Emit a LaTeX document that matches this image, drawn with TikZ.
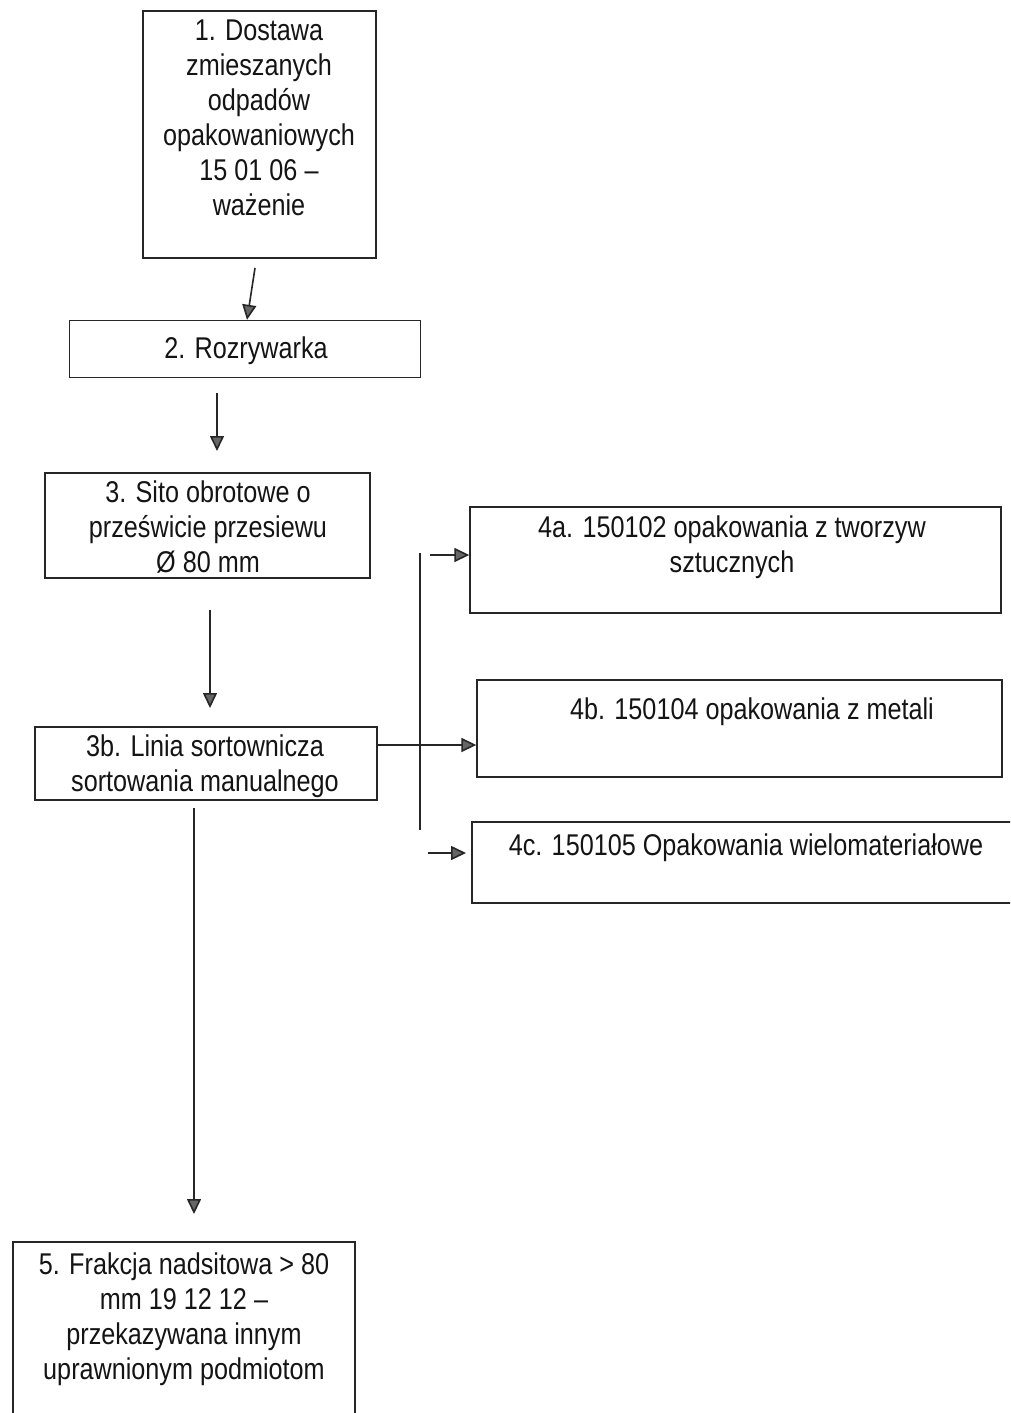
\documentclass[tikz,border=0pt]{standalone}
\usepackage{fontspec}
\setmainfont[FakeStretch=0.84]{Liberation Sans}
\usetikzlibrary{arrows.meta}
\tikzset{
  box/.style={draw=black!85, line width=1.4pt, rectangle, inner sep=0pt},
  txt/.style={align=center, font=\fontsize{30}{35}\selectfont, inner sep=0pt, text=black!92},
  arr/.style={draw=black!85, line width=1.6pt, -{Triangle[length=15pt,width=14pt,fill=black!60]}},
  ln/.style={draw=black!85, line width=1.6pt}
}
\begin{document}
\begin{tikzpicture}[x=1pt,y=-1pt]
\useasboundingbox (0,0) rectangle (1010,1413);
\clip (0,0) rectangle (1010,1413);
\fill[white] (0,0) rectangle (1010,1413);
% boxes
\node[box, minimum width=233pt, minimum height=247pt] (b1) at (259.5,134.5) {};
\node[box, minimum width=351pt, minimum height=57pt] (b2) at (245,349) {};
\node[box, minimum width=325pt, minimum height=105pt] (b3) at (207.5,525.5) {};
\node[box, minimum width=342pt, minimum height=73pt] (b3b) at (206,763.5) {};
\node[box, minimum width=531pt, minimum height=106pt] (b4a) at (735.5,560) {};
\node[box, minimum width=525pt, minimum height=97pt] (b4b) at (739.5,728.5) {};
\node[box, minimum width=548pt, minimum height=81pt] (b4c) at (746,862.5) {};
\node[box, minimum width=342pt, minimum height=198pt] (b5) at (184,1341) {};
% texts
\node[txt, anchor=north] (t1) at (259,20) {1. Dostawa\\zmieszanych\\odpadów\\opakowaniowych\\15 01 06 --\\ważenie};
\node[txt] (t2) at (246,351) {2. Rozrywarka};
\node[txt, anchor=north] (t3) at (208,481) {3. Sito obrotowe o\\prześwicie przesiewu\\Ø 80 mm};
\node[txt, anchor=north] (t3b) at (205,735) {3b. Linia sortownicza\\sortowania manualnego};
\node[txt, anchor=north] (t4a) at (732,516) {4a. 150102 opakowania z tworzyw\\sztucznych};
\node[txt, anchor=north] (t4b) at (752,698) {4b. 150104 opakowania z metali};
\node[txt, anchor=north] (t4c) at (746,834) {4c. 150105 Opakowania wielomateriałowe};
\node[txt, anchor=north] (t5) at (184,1253) {5. Frakcja nadsitowa > 80\\mm 19 12 12 --\\przekazywana innym\\uprawnionym podmiotom};
% connectors
\coordinate (a1s) at (255,268);
\draw[arr] (a1s) -- (b2.north -| 247,0);
\coordinate (a2s) at (217,393);
\coordinate (a2e) at (217,451);
\draw[arr] (a2s) -- (a2e);
\coordinate (a3s) at (210,610);
\coordinate (a3e) at (210,708);
\draw[arr] (a3s) -- (a3e);
\coordinate (a5s) at (194,808);
\coordinate (a5e) at (194,1214);
\draw[arr] (a5s) -- (a5e);
\coordinate (vtop) at (420,553);
\coordinate (vbot) at (420,830);
\draw[ln] (vtop) -- (vbot);
\draw[arr] (b3b.east |- 0,745) -- (b4b.west |- 0,745);
\coordinate (a4as) at (430,555);
\draw[arr] (a4as) -- (b4a.west |- a4as);
\coordinate (a4cs) at (428,853);
\coordinate (a4ce) at (466,853);
\draw[arr] (a4cs) -- (a4ce);
\end{tikzpicture}
\end{document}
